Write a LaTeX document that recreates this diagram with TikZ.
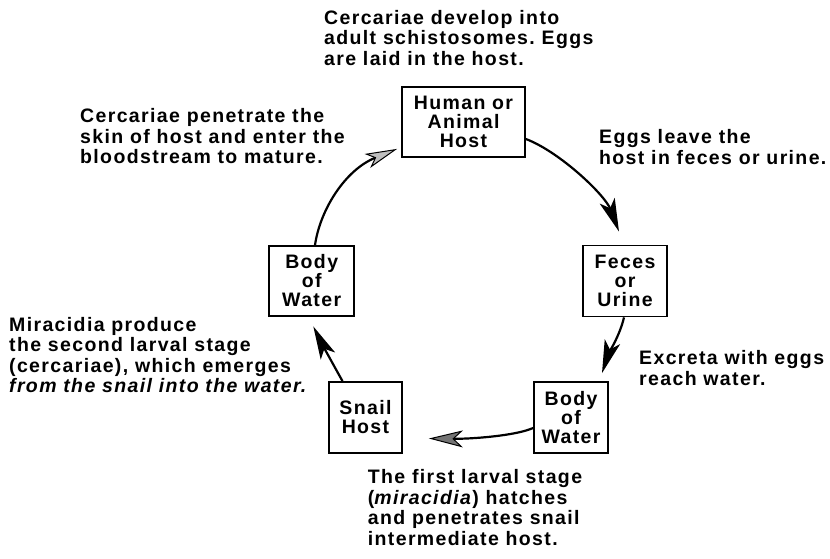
\documentclass[tikz,border=0pt]{standalone}
\usepackage{fontspec}
\setmainfont{Liberation Sans}[LetterSpace=7]
\usetikzlibrary{arrows.meta}
\frenchspacing
\tikzset{
  lbl/.style={font=\fontsize{19.5}{20.5}\selectfont\bfseries, align=left, inner sep=0pt, anchor=north west},
  box/.style={draw, line width=1.8pt, font=\fontsize{19.5}{19}\selectfont\bfseries, align=center, inner sep=0pt},
  conn/.style={line width=2.2pt},
  tipblack/.style={-{Stealth[length=33pt,width=16pt,inset=8pt]}},
  tipdark/.style={-{Stealth[length=34pt,width=17pt,inset=9pt,fill=black!55,line width=1pt]}},
  tiplight/.style={-{Stealth[length=32pt,width=15pt,inset=8pt,fill=black!25,line width=1pt]}},
}
\begin{document}
\begin{tikzpicture}[x=1pt,y=-1pt]
\useasboundingbox (0,0) rectangle (830,559);

% boxes
\node[box, minimum width=123pt, minimum height=70pt] (human) at (463.5,122) {Human or\\Animal\\Host};
\node[box, minimum width=85pt, minimum height=70pt] (bwL) at (311.7,281) {Body\\of\\Water};
\node[box, minimum width=84pt, minimum height=71pt] (feces) at (625,281) {Feces\\or\\Urine};
\node[box, minimum width=73pt, minimum height=71pt] (snail) at (365.5,417.5) {Snail\\Host};
\node[box, minimum width=74pt, minimum height=71pt] (bwR) at (571,417.5) {Body\\of\\Water};

% labels
\node[lbl] (tA) at (324,10) {Cercariae develop into\\adult schistosomes. Eggs\\are laid in the host.};
\node[lbl] (tB) at (80,108.3) {Cercariae penetrate the\\skin of host and enter the\\bloodstream to mature.};
\node[lbl] (tC) at (599,129.3) {Eggs leave the\\host in feces or urine.};
\node[lbl] (tD) at (9,317) {Miracidia produce\\the second larval stage\\(cercariae), which emerges\\\textit{from the snail into the water.}};
\node[lbl] (tE) at (639,350.3) {Excreta with eggs\\reach water.};
\node[lbl] (tF) at (367.7,469.3) {The first larval stage\\(\textit{miracidia}) hatches\\and penetrates snail\\intermediate host.};

% connectors
\draw[conn, tipblack] ([yshift=-17pt]human.east) .. controls (560,152) and (605,195) .. ([xshift=-6pt,yshift=13pt]feces.north);
\draw[conn, tipblack] ([xshift=-1pt]feces.south) .. controls (620,335) and (608,355) .. ([xshift=31pt,yshift=8pt]bwR.north);
\draw[conn, tipdark] ([yshift=-10.5pt]bwR.west) .. controls (515,436) and (470,439) .. ([xshift=26pt,yshift=-21pt]snail.east);
\draw[conn, tipblack] ([xshift=-23pt]snail.north) .. controls (334,366) and (321,342) .. ([xshift=1.6pt,yshift=-9.5pt]bwL.south);
\draw[conn, tiplight] ([xshift=3.3pt]bwL.north) .. controls (320,210) and (345,170) .. ([xshift=-4pt,yshift=9pt]human.south west);
\end{tikzpicture}
\end{document}
